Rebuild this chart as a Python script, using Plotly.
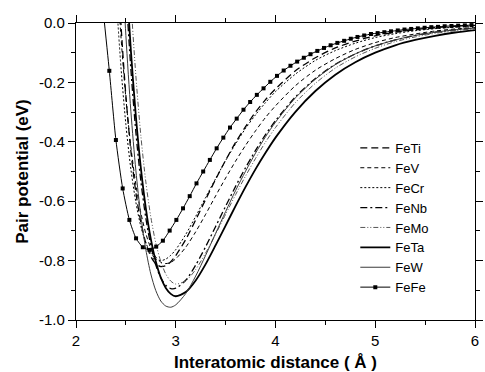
import plotly.graph_objects as go

# common distance grid (Å) for the alloy pair potentials
r_grid = [2.40, 2.45, 2.50, 2.55, 2.60, 2.65, 2.70, 2.75, 2.80, 2.85, 2.90, 2.95,
          3.0, 3.1, 3.2, 3.3, 3.4, 3.5, 3.6, 3.7, 3.8, 3.9, 4.0, 4.2, 4.4, 4.6,
          4.8, 5.0, 5.2, 5.4, 5.6, 5.8, 6.0]

feti = [0.312, 0.0, -0.245, -0.431, -0.571, -0.671, -0.741, -0.786, -0.811, -0.820, -0.817, -0.804,
        -0.783, -0.729, -0.663, -0.594, -0.526, -0.462, -0.402, -0.349, -0.300, -0.258, -0.222,
        -0.161, -0.117, -0.084, -0.061, -0.043, -0.031, -0.022, -0.016, -0.011, -0.008]
fev = [0.22, -0.043, -0.253, -0.417, -0.544, -0.639, -0.709, -0.758, -0.788, -0.805, -0.810, -0.806,
       -0.794, -0.755, -0.703, -0.644, -0.582, -0.522, -0.465, -0.412, -0.363, -0.318, -0.279,
       -0.211, -0.159, -0.120, -0.089, -0.066, -0.049, -0.037, -0.027, -0.020, -0.015]
fecr = [0.106, -0.146, -0.342, -0.492, -0.603, -0.685, -0.740, -0.775, -0.794, -0.800, -0.795, -0.782,
        -0.763, -0.712, -0.651, -0.587, -0.524, -0.463, -0.407, -0.355, -0.309, -0.268, -0.231,
        -0.172, -0.126, -0.093, -0.068, -0.049, -0.036, -0.026, -0.019, -0.014, -0.010]
fenb = [None, 0.45, 0.115, -0.155, -0.367, -0.532, -0.657, -0.749, -0.815, -0.858, -0.883, -0.894,
        -0.893, -0.866, -0.815, -0.753, -0.685, -0.617, -0.550, -0.487, -0.429, -0.376, -0.329,
        -0.249, -0.187, -0.139, -0.104, -0.077, -0.057, -0.042, -0.031, -0.023, -0.017]
femo = [None, None, 0.39, 0.077, -0.177, -0.379, -0.535, -0.653, -0.741, -0.803, -0.845, -0.869,
        -0.879, -0.868, -0.830, -0.774, -0.711, -0.644, -0.578, -0.515, -0.456, -0.401, -0.352,
        -0.268, -0.203, -0.152, -0.114, -0.085, -0.063, -0.047, -0.035, -0.026, -0.019]
feta = [None, 0.52, 0.183, -0.092, -0.313, -0.488, -0.624, -0.727, -0.803, -0.857, -0.892, -0.912,
        -0.920, -0.906, -0.867, -0.812, -0.748, -0.682, -0.616, -0.552, -0.492, -0.437, -0.386,
        -0.299, -0.229, -0.174, -0.132, -0.100, -0.075, -0.057, -0.043, -0.032, -0.024]
few = [None, 0.281, -0.042, -0.297, -0.496, -0.649, -0.763, -0.845, -0.901, -0.936, -0.953, -0.957,
       -0.949, -0.911, -0.852, -0.782, -0.708, -0.635, -0.564, -0.499, -0.438, -0.383, -0.334,
       -0.252, -0.189, -0.140, -0.104, -0.077, -0.057, -0.042, -0.031, -0.023, -0.017]

# FeFe, sampled at its own (marker) points
r_fefe = [2.267, 2.334, 2.400, 2.468, 2.535, 2.602, 2.670, 2.737, 2.804, 2.871, 2.939, 3.006,
          3.073, 3.140, 3.208, 3.275, 3.342, 3.410, 3.477, 3.544, 3.611, 3.679, 3.746, 3.813,
          3.880, 3.948, 4.015, 4.082, 4.150, 4.217, 4.284, 4.351, 4.419, 4.486, 4.553, 4.620,
          4.688, 4.755, 4.822, 4.889, 4.957, 5.024, 5.091, 5.158, 5.226, 5.293, 5.360, 5.427,
          5.495, 5.562, 5.629, 5.696, 5.764, 5.831, 5.898, 5.965]
fefe = [0.06, -0.161, -0.394, -0.557, -0.663, -0.725, -0.755, -0.764, -0.753, -0.733, -0.699, -0.663,
        -0.624, -0.583, -0.540, -0.500, -0.461, -0.422, -0.386, -0.352, -0.322, -0.292, -0.266, -0.242,
        -0.220, -0.198, -0.178, -0.160, -0.144, -0.130, -0.117, -0.105, -0.094, -0.084, -0.075, -0.067,
        -0.060, -0.053, -0.047, -0.042, -0.037, -0.034, -0.031, -0.028, -0.025, -0.022, -0.020, -0.018,
        -0.016, -0.014, -0.013, -0.011, -0.010, -0.009, -0.008, -0.007]

x_ticks = [2, 3, 4, 5, 6]
y_ticks = [0.0, -0.2, -0.4, -0.6, -0.8, -1.0]

FONT = "Liberation Sans, Arial, sans-serif"

series = [
    ("FeTi", feti, dict(color="black", width=1.3, dash="7px,4px")),
    ("FeV", fev, dict(color="black", width=1.0, dash="4px,3px")),
    ("FeCr", fecr, dict(color="black", width=1.0, dash="2px,2px")),
    ("FeNb", fenb, dict(color="black", width=1.3, dash="7px,3px,2px,3px")),
    ("FeMo", femo, dict(color="#555555", width=1.0, dash="5px,2px,1px,2px,1px,2px")),
    ("FeTa", feta, dict(color="black", width=1.8, dash="solid")),
    ("FeW", few, dict(color="#3a3a3a", width=1.0, dash="solid")),
]

fig = go.Figure()
for name, ys, ln in series:
    fig.add_trace(go.Scatter(x=r_grid, y=ys, mode="lines", name=name,
                             line=dict(shape="spline", smoothing=0.8, **ln)))

fig.add_trace(go.Scatter(x=r_fefe, y=fefe, mode="lines+markers", name="FeFe",
                         line=dict(color="black", width=1.0, shape="spline", smoothing=0.6),
                         marker=dict(symbol="square", size=4, color="black")))

axis_common = dict(showline=True, linecolor="black", linewidth=1.3, mirror="allticks",
                   ticks="outside", ticklen=7, tickwidth=1.2, tickcolor="black",
                   showgrid=False, zeroline=False,
                   tickfont=dict(family=FONT, size=15, color="black"))

fig.update_xaxes(range=[2, 6], tickvals=x_ticks, ticktext=[str(v) for v in x_ticks],
                 minor=dict(ticks="outside", ticklen=4, tickwidth=1.2, tickcolor="black", dtick=0.5),
                 title=dict(text="<b>Interatomic distance ( Å )</b>",
                            font=dict(family=FONT, size=17, color="black"), standoff=8),
                 **axis_common)
fig.update_yaxes(range=[-1.0, 0.0], tickvals=y_ticks, ticktext=[f"{v:.1f}" for v in y_ticks],
                 minor=dict(ticks="outside", ticklen=4, tickwidth=1.2, tickcolor="black", dtick=0.1),
                 title=dict(text="<b>Pair potential (eV)</b>",
                            font=dict(family=FONT, size=17, color="black"), standoff=6),
                 **axis_common)

fig.update_layout(
    width=485, height=372,
    margin=dict(l=76, r=2, t=23, b=52),
    paper_bgcolor="white", plot_bgcolor="white",
    font=dict(family=FONT, color="black"),
    showlegend=True,
    legend=dict(x=0.70, y=0.63, xanchor="left", yanchor="top",
                bgcolor="rgba(0,0,0,0)", borderwidth=0,
                font=dict(family=FONT, size=13, color="black"),
                itemwidth=30, tracegroupgap=0),
)

fig.write_html("out.html")
